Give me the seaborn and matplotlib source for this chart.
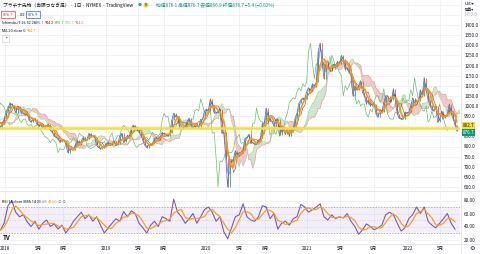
import numpy as np
import pandas as pd
import matplotlib
matplotlib.use('Agg')
import matplotlib.pyplot as plt
import matplotlib.dates as mdates
import matplotlib.transforms as mtransforms
import seaborn as sns

# ---------------- data (weekly closes) ----------------
close_start = '2017-10-06'
close = [
    915, 935, 925, 915, 925, 940, 945, 945, 940, 890,
    895, 915, 935,
    # 2018
    970, 985, 1015, 1005, 995, 965, 1000, 990, 965, 965, 955, 960, 930,
    920, 935, 935, 910, 900, 910, 890, 900, 905, 910, 880, 870, 850,
    845, 835, 820, 835, 830, 815, 770, 790, 785, 785, 810, 830, 815,
    825, 845, 830, 835, 865, 855, 850, 845, 805, 795, 790, 795, 800,
    # 2019
    815, 820, 805, 815, 825, 805, 810, 850, 865, 820, 835, 855, 850,
    890, 905, 895, 885, 870, 855, 830, 805, 795, 810, 810, 815, 840,
    845, 830, 850, 870, 860, 860, 850, 865, 930, 965, 945, 950, 895,
    885, 895, 895, 925, 940, 900, 890, 905, 900, 895, 935, 935, 975,
    # 2020
    985, 975, 1035, 1005, 965, 965, 975, 985, 865, 870, 745, 600, 730,
    725, 740, 780, 755, 770, 770, 785, 840, 845, 860, 815, 820, 810,
    810, 830, 840, 915, 915, 990, 945, 925, 925, 900, 935, 935, 855,
    885, 880, 860, 890, 850, 885, 885, 940, 965, 1015, 1030, 1040, 1035,
    # 2021
    1070, 1090, 1075, 1110, 1095, 1120, 1270, 1310, 1210, 1135, 1210, 1190, 1175,
    1200, 1205, 1200, 1220, 1205, 1250, 1230, 1180, 1190, 1165, 1150, 1050, 1100,
    1080, 1100, 1125, 1065, 1050, 1010, 1030, 1000, 1010, 1010, 960, 945, 985,
    970, 1015, 1050, 1050, 1020, 1030, 1085, 1030, 960, 940, 935, 935, 970, 965,
    # 2022
    970, 1000, 1040, 1015, 1030, 1025, 1080, 1050, 1140, 1080, 1030, 1005,
    980, 975, 1000, 920, 935, 975, 940, 950, 960, 1010, 965, 935, 905, 876.7,
]

rsi_start = '2017-12-15'
rsi_vals = [
    34, 45, 72, 80, 62, 55, 58, 47, 40, 48, 36, 45, 50, 40, 44, 36, 42, 30, 38, 48,
    55, 62, 52, 58, 48, 55, 42, 30, 38, 45, 52, 48, 63, 55, 64, 60, 45, 38, 30, 42,
    48, 40, 55, 52, 48, 82, 62, 55, 45, 52, 60, 45, 55, 66, 70, 62, 48, 55, 32, 21,
    38, 55, 58, 75, 55, 50, 48, 55, 72, 70, 52, 60, 36, 45, 48, 42, 52, 55, 74, 70,
    62, 66, 70, 75, 55, 50, 58, 52, 55, 53, 60, 48, 40, 28, 35, 44, 40, 35, 38, 42,
    58, 62, 58, 45, 33, 38, 52, 58, 70, 60, 70, 48, 42, 38, 45, 52, 60, 45, 35.65,
]

tick_dates = ['2018-01-02', '2018-05-01', '2018-08-01', '2019-01-02', '2019-05-01',
              '2019-08-01', '2020-01-02', '2020-05-01', '2020-08-03', '2021-01-04',
              '2021-05-03', '2021-09-01', '2022-01-03', '2022-05-02']
tick_labels = ['2018', '5月', '8月', '2019', '5月', '8月', '2020', '5月', '8月',
               '2021', '5月', '9月', '2022', '5月']
price_ticks = list(range(600, 1401, 50))
rsi_ticks = [20, 40, 60, 80]
hline_level = 892.7
last_close = 876.7

# ---------------- derived series ----------------
dates = pd.date_range(close_start, periods=len(close), freq='W-FRI')
df = pd.DataFrame({'date': dates, 'close': close})
s = df['close']
df['ma'] = s.rolling(4).mean()
df['tenkan'] = (s.rolling(2).max() + s.rolling(2).min()) / 2
df['kijun'] = (s.rolling(5).max() + s.rolling(5).min()) / 2
shift = 5
spanA = ((df['tenkan'] + df['kijun']) / 2).values
spanB = ((s.rolling(10).max() + s.rolling(10).min()) / 2).values
fut = dates.append(pd.date_range(dates[-1] + pd.Timedelta(days=7), periods=shift, freq='W-FRI'))
cloud = pd.DataFrame({'date': fut[shift:], 'a': spanA, 'b': spanB})
lag = pd.DataFrame({'date': dates[:-shift], 'v': s.values[shift:]})

rdates = pd.date_range(rsi_start, periods=len(rsi_vals), freq='2W-FRI')
rdf = pd.DataFrame({'date': rdates, 'rsi': rsi_vals})
rdf['ma'] = rdf['rsi'].rolling(3, min_periods=1).mean()

# ---------------- figure ----------------
sns.set_theme(style='white')
plt.rcParams['font.family'] = ['Noto Sans CJK JP', 'DejaVu Sans']
LAT = ['Roboto', 'DejaVu Sans']
W, H = 480, 254
fig = plt.figure(figsize=(W / 100, H / 100), dpi=100)
fig.patch.set_facecolor('white')

ax = fig.add_axes([0, 1 - 190 / H, 460 / W, 190 / H])
axr = fig.add_axes([0, 1 - 243 / H, 460 / W, 52 / H])

xl = (mdates.date2num(pd.Timestamp('2017-12-14')), mdates.date2num(pd.Timestamp('2022-07-12')))
grid_c = '#eef0f4'
tick_x = [mdates.date2num(pd.Timestamp(d)) for d in tick_dates]

for a in (ax, axr):
    a.set_facecolor('white')
    for xv in tick_x:
        a.axvline(xv, color=grid_c, lw=0.6, zorder=0)
    for sp in a.spines.values():
        sp.set_visible(False)

for p in price_ticks + [1450, 1500]:
    ax.axhline(p, color=grid_c, lw=0.6, zorder=0)
for v in rsi_ticks:
    axr.axhline(v, color=grid_c, lw=0.6, zorder=0)

# cloud
ax.fill_between(cloud['date'], cloud['a'], cloud['b'], where=cloud['a'] >= cloud['b'],
                interpolate=True, color='#a5d6a7', alpha=0.55, lw=0, zorder=1)
ax.fill_between(cloud['date'], cloud['a'], cloud['b'], where=cloud['a'] < cloud['b'],
                interpolate=True, color='#ef9a9a', alpha=0.55, lw=0, zorder=1)
sns.lineplot(data=cloud, x='date', y='a', ax=ax, color='#a5d6a7', lw=0.5, zorder=2)
sns.lineplot(data=cloud, x='date', y='b', ax=ax, color='#ef9a9a', lw=0.5, zorder=2)

# lagging span
sns.lineplot(data=lag, x='date', y='v', ax=ax, color='#6fbf73', lw=0.5, zorder=3)

# price (candle-like segments)
opens = s.shift(1)
up = s >= opens
ax.vlines(df['date'][1:], np.minimum(opens, s)[1:], np.maximum(opens, s)[1:],
          colors=np.where(up[1:], '#26a69a', '#ef5350'), lw=0.7, alpha=0.85, zorder=4)
sns.lineplot(data=df, x='date', y='close', ax=ax, color='#6a7b9a', lw=0.6, zorder=4)

# conversion / base
sns.lineplot(data=df, x='date', y='tenkan', ax=ax, color='#2962ff', lw=0.45, alpha=0.8, zorder=5)
sns.lineplot(data=df, x='date', y='kijun', ax=ax, color='#b71c1c', lw=0.45, alpha=0.8, zorder=5)
# MA 20
sns.lineplot(data=df, x='date', y='ma', ax=ax, color='#ff9800', lw=1.2, zorder=6)

# yellow horizontal line
ax.axhline(hline_level, color='#f5e030', lw=1.8, zorder=7)

ax.set_xlim(*xl)
ax.set_ylim(1400 - 165 / 0.2025, 1400 + 25 / 0.2025)
ax.set_xlabel('')
ax.set_ylabel('')
ax.set_xticks(tick_x)
ax.set_xticklabels([])
ax.tick_params(axis='x', length=0)
ax.yaxis.tick_right()
ax.set_yticks(price_ticks)
ax.set_yticklabels([f'{p:.1f}' for p in price_ticks])
ax.tick_params(axis='y', length=0, pad=3, labelsize=3.3, labelcolor='#131722')

tr = mtransforms.blended_transform_factory(ax.transAxes, ax.transData)
ax.text(1.006, 904, f'{hline_level:.1f}', transform=tr, ha='left', va='center',
        fontsize=3.3, color='#131722',
        bbox=dict(boxstyle='square,pad=0.2', fc='#f5e030', ec='none'), zorder=10, clip_on=False)
ax.text(1.006, 869, f'{last_close:.1f}', transform=tr, ha='left', va='center',
        fontsize=3.3, color='white',
        bbox=dict(boxstyle='square,pad=0.2', fc='#089981', ec='none'), zorder=10, clip_on=False)

# ---------------- RSI ----------------
axr.axhspan(30, 70, color='#7e57c2', alpha=0.09, lw=0, zorder=1)
axr.axhline(70, color='#9598a1', lw=0.5, ls=(0, (2, 2)), zorder=2)
axr.axhline(30, color='#9598a1', lw=0.5, ls=(0, (2, 2)), zorder=2)
axr.axhline(50, color='#b2b5be', lw=0.4, ls=(0, (1, 2)), zorder=2)
sns.lineplot(data=rdf, x='date', y='rsi', ax=axr, color='#7e57c2', lw=0.8, zorder=3)
sns.lineplot(data=rdf, x='date', y='ma', ax=axr, color='#f7a21b', lw=0.9, zorder=4)
axr.set_xlim(*xl)
axr.set_ylim(30 - 10 / 0.65, 70 + 16 / 0.65)
axr.set_xlabel('')
axr.set_ylabel('')
axr.yaxis.tick_right()
axr.set_yticks(rsi_ticks)
axr.set_yticklabels([f'{v:.2f}' for v in rsi_ticks])
axr.tick_params(axis='y', length=0, pad=3, labelsize=3.3, labelcolor='#131722')
axr.set_xticks(tick_x)
axr.set_xticklabels(tick_labels)
axr.tick_params(axis='x', length=0, pad=2.0, labelsize=3.3, labelcolor='#131722')

# separators
fig.add_artist(plt.Line2D([0, 1], [1 - 190.5 / H, 1 - 190.5 / H], color='#e0e3eb', lw=0.6))
fig.add_artist(plt.Line2D([0, 1], [1 - 243.5 / H, 1 - 243.5 / H], color='#e0e3eb', lw=0.6))
fig.add_artist(plt.Line2D([460.5 / W, 460.5 / W], [0, 1], color='#e0e3eb', lw=0.6))

# ---------------- header texts ----------------
def ft(x, y, txt, **kw):
    kw.setdefault('fontsize', 3.4)
    kw.setdefault('va', 'center')
    fig.text(x / W, 1 - y / H, txt, **kw)

ft(3, 5, 'プラチナ先物（当限つなぎ足） · 1日 · NYMEX · TradingView', color='#131722')
ft(138, 5, '●', color='#26a69a', fontsize=2.8)
ft(145, 5, '0', color='#131722', fontsize=2.6,
   bbox=dict(boxstyle='circle,pad=0.15', fc='#f7c948', ec='none'))
ft(156, 5, '始値876.1 高値876.7 安値866.9 終値876.7 −5.4 (−0.62%)', color='#089981')
ft(3, 14.5, '876.7', color='#f23645', fontsize=3.0, family=LAT,
   bbox=dict(boxstyle='square,pad=0.4', fc='white', ec='#f23645', lw=0.5))
ft(19.5, 14.5, '0.2', color='#131722', fontsize=2.9, family=LAT)
ft(28, 14.5, '876.9', color='#2962ff', fontsize=3.0, family=LAT,
   bbox=dict(boxstyle='square,pad=0.4', fc='white', ec='#2962ff', lw=0.5))
ft(2, 23, 'Ichimoku 9 26 52 26', color='#131722', fontsize=2.7, family=LAT)
ft(35, 23, '895.1', color='#2962ff', fontsize=2.7, family=LAT)
ft(45, 23, '944.2', color='#b71c1c', fontsize=2.7, family=LAT)
ft(55, 23, '876.7', color='#43a047', fontsize=2.7, family=LAT)
ft(65, 23, '970.7', color='#81c784', fontsize=2.7, family=LAT)
ft(75, 23, '944.2', color='#e57373', fontsize=2.7, family=LAT)
ft(2, 31, 'MA 20 close 0', color='#131722', fontsize=2.7, family=LAT)
ft(27, 31, '944.7', color='#ff9800', fontsize=2.7, family=LAT)
ft(4, 38.5, '⌃', color='#131722', fontsize=3.0,
   bbox=dict(boxstyle='square,pad=0.45', fc='white', ec='#d1d4dc', lw=0.5))

ft(2, 202, 'RSI 14 close SMA 14 2', color='#131722', fontsize=2.7, family=LAT)
ft(38, 202, '35.65', color='#7e57c2', fontsize=2.7, family=LAT)
ft(48, 202, '40.60', color='#f7a21b', fontsize=2.7, family=LAT)
ft(58, 202, '⊙ ⊙', color='#787b86', fontsize=2.6)
ft(3, 237, 'TV', color='#131722', fontsize=4.5, fontweight='bold')

ft(465, 4, 'USD▾', color='#131722', fontsize=2.8)
ft(465, 9.5, '換算▾', color='#131722', fontsize=2.6)
ft(464, 15, '1450.0', color='#b2b5be', fontsize=3.3)
ft(469, 248.5, '⚙', color='#131722', fontsize=4.5)

fig.savefig('out.png', dpi=100, facecolor='white')
